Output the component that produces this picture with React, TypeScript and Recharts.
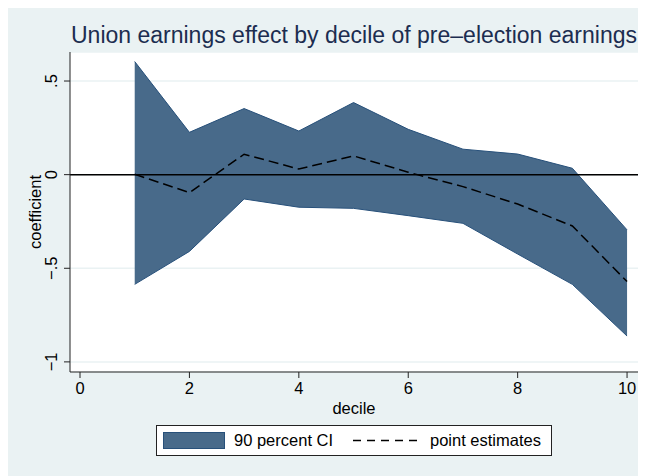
import React from 'react';
import { ComposedChart, Area, Line, XAxis, YAxis, CartesianGrid, ReferenceLine } from 'recharts';

const deciles = [1, 2, 3, 4, 5, 6, 7, 8, 9, 10];
const ciUpper = [0.604, 0.226, 0.353, 0.233, 0.385, 0.242, 0.136, 0.11, 0.034, -0.295];
const ciLower = [-0.586, -0.41, -0.13, -0.174, -0.18, -0.219, -0.26, -0.424, -0.586, -0.862];
const pointEst = [0.002, -0.096, 0.109, 0.03, 0.1, 0.013, -0.064, -0.157, -0.274, -0.571];
const xTicks = [0, 2, 4, 6, 8, 10];
const yTicks = [-1, -0.5, 0, 0.5];
const yTickLabels: Record<string, string> = { '-1': '\u22121', '-0.5': '\u2212.5', '0': '0', '0.5': '.5' };

const data = deciles.map((d, i) => ({
    decile: d,
    ci: [ciLower[i], ciUpper[i]],
    est: pointEst[i],
}));

const FONT = '"Liberation Sans", Arial, sans-serif';
const BG = '#eaf2f3';
const FILL = '#486a8a';
const EDGE = '#27507a';

const XTick = (props: any) => {
    const { x, y, payload } = props;
    return (
        <text x={x} y={y + 16} textAnchor="middle" fontSize={16.5} fontFamily={FONT} fill="#000">
            {payload.value}
        </text>
    );
};

const YTick = (props: any) => {
    const { y, payload } = props;
    const bx = 49;
    return (
        <text x={bx} y={y} transform={`rotate(-90 ${bx} ${y})`} textAnchor="middle" fontSize={16.5} fontFamily={FONT} fill="#000">
            {yTickLabels[String(payload.value)]}
        </text>
    );
};

const YLabel = (props: any) => {
    const { viewBox } = props;
    const cy = viewBox.y + viewBox.height / 2;
    const bx = 33;
    return (
        <text x={bx} y={cy} transform={`rotate(-90 ${bx} ${cy})`} textAnchor="middle" fontSize={16.5} fontFamily={FONT} fill="#000">
            coefficient
        </text>
    );
};

const XLabel = (props: any) => {
    const { viewBox } = props;
    const cx = viewBox.x + viewBox.width / 2;
    return (
        <text x={cx} y={406} textAnchor="middle" fontSize={16.5} fontFamily={FONT} fill="#000">
            decile
        </text>
    );
};

export default function App() {
    return (
        <div style={{ position: 'relative', width: 638, height: 468, background: BG, fontFamily: FONT }}>
            <div style={{ position: 'absolute', left: 46, width: 600, top: 15.5, lineHeight: '23px', fontSize: 23, textAlign: 'center', color: '#1c2d50' }}>
                Union earnings effect by decile of pre{'\u2013'}election earnings
            </div>
            <ComposedChart width={638} height={468} data={data} margin={{ top: 44, right: 8, bottom: 64, left: 0 }}>
                <CartesianGrid horizontal vertical={false} stroke={BG} strokeWidth={1.5} fill="#fff" fillOpacity={1} />
                <XAxis
                    dataKey="decile"
                    type="number"
                    domain={[-0.183, 10.2]}
                    ticks={xTicks}
                    allowDataOverflow
                    height={40}
                    tickSize={6}
                    tickMargin={0}
                    tick={<XTick />}
                    axisLine={{ stroke: '#222' }}
                    tickLine={{ stroke: '#222' }}
                    label={<XLabel />}
                />
                <YAxis
                    type="number"
                    domain={[-1.054, 0.655]}
                    ticks={yTicks}
                    allowDataOverflow
                    width={62}
                    tickSize={6}
                    tickMargin={0}
                    tick={<YTick />}
                    axisLine={{ stroke: '#222' }}
                    tickLine={{ stroke: '#222' }}
                    label={<YLabel />}
                />
                <Area
                    type="linear"
                    dataKey="ci"
                    fill={FILL}
                    fillOpacity={1}
                    stroke={EDGE}
                    strokeWidth={1}
                    isAnimationActive={false}
                />
                <ReferenceLine y={0} stroke="#000" strokeWidth={1.5} />
                <Line
                    type="linear"
                    dataKey="est"
                    stroke="#000"
                    strokeWidth={1.5}
                    strokeDasharray="10 5"
                    dot={false}
                    activeDot={false}
                    isAnimationActive={false}
                />
            </ComposedChart>
            <div style={{ position: 'absolute', left: 148, top: 417, width: 394, height: 29, border: '1px solid #222', background: '#fff', fontSize: 16.5 }}>
                <div style={{ position: 'absolute', left: 6, top: 6, width: 60, height: 15, background: FILL, border: `1px solid ${EDGE}` }} />
                <div style={{ position: 'absolute', left: 77, top: 4, lineHeight: '20px' }}>90 percent CI</div>
                <svg style={{ position: 'absolute', left: 196, top: 0 }} width={64} height={29}>
                    <line x1={0} y1={14.5} x2={64} y2={14.5} stroke="#000" strokeWidth={1.5} strokeDasharray="8 6" />
                </svg>
                <div style={{ position: 'absolute', left: 273, top: 4, lineHeight: '20px' }}>point estimates</div>
            </div>
        </div>
    );
}
